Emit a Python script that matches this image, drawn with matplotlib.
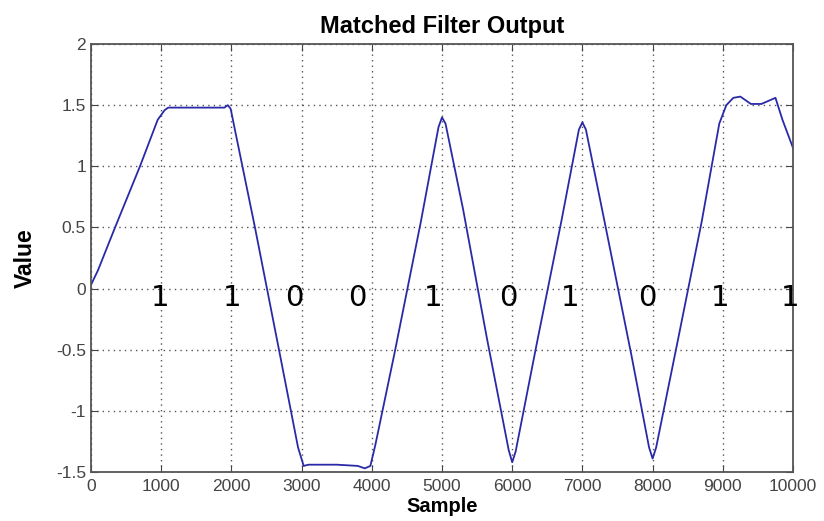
import numpy as np
import matplotlib.pyplot as plt

plt.rcParams['font.family'] = ['Liberation Sans', 'DejaVu Sans']

# curve (sample, value)
sample = [0, 100, 343, 698, 950, 1050, 1100, 1500, 1900, 1950, 1990, 2050, 2336, 2678, 2950,
          3030, 3100, 3500, 3800, 3900, 3980, 4050, 4316, 4700, 4950, 5000, 5050,
          5300, 5641, 5950, 6000, 6050, 6350, 6700, 6950, 7000, 7050, 7350, 7700,
          7950, 8000, 8050, 8350, 8700, 8950, 9050, 9150, 9250, 9400, 9550, 9750,
          9850, 10000]
value = [0.03, 0.15, 0.50, 1.00, 1.38, 1.46, 1.48, 1.48, 1.48, 1.50, 1.47, 1.30, 0.50, -0.50, -1.30,
         -1.45, -1.44, -1.44, -1.45, -1.47, -1.45, -1.28, -0.55, 0.55, 1.32, 1.40, 1.35,
         0.65, -0.41, -1.32, -1.42, -1.33, -0.45, 0.55, 1.30, 1.36, 1.30, 0.45, -0.55,
         -1.30, -1.39, -1.30, -0.45, 0.55, 1.35, 1.50, 1.56, 1.57, 1.51, 1.51, 1.56,
         1.38, 1.15]

bits = ['1', '1', '0', '0', '1', '0', '1', '0', '1', '1']
bit_pos = [980, 2010, 2900, 3790, 4870, 5940, 6820, 7920, 8960, 9960]

fig = plt.figure(figsize=(8.24, 5.21), dpi=100)
ax = fig.add_axes([0.1104, 0.094, 0.852, 0.8215])

ax.plot(sample, value, color='#2a2aa8', linewidth=1.3)

for b, x in zip(bits, bit_pos):
    ax.text(x, -0.08, b, fontsize=21, family='DejaVu Sans', ha='center', va='center',
            color='black', clip_on=False)

ax.set_xlim(0, 10000)
ax.set_ylim(-1.5, 2)
ax.set_xticks(np.arange(0, 10001, 1000))
ax.set_yticks([-1.5, -1, -0.5, 0, 0.5, 1, 1.5, 2])
ax.set_yticklabels(['-1.5', '-1', '-0.5', '0', '0.5', '1', '1.5', '2'])
ax.grid(True, linestyle=(0, (1, 3)), color='#555555', linewidth=1.0)
ax.tick_params(direction='in', top=True, right=True, labelsize=12.5, colors='#444444', length=5)
ax.tick_params(axis='x', pad=5)
for s in ax.spines.values():
    s.set_color('#555555')
    s.set_linewidth(1.3)

ax.set_title('Matched Filter Output', fontsize=17, fontweight='bold', pad=8)
ax.set_xlabel('Sample', fontsize=14.5, fontweight='bold', labelpad=2)
ax.set_ylabel('Value', fontsize=16.5, fontweight='bold', labelpad=14,
              family=['Liberation Sans Narrow', 'Liberation Sans'])

fig.savefig('out.png', dpi=100)
